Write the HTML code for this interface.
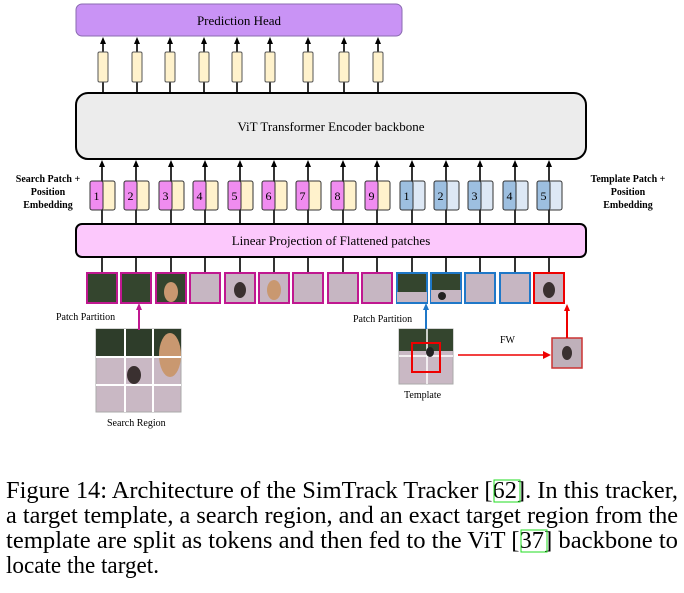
<!DOCTYPE html>
<html><head><meta charset="utf-8"><style>
body{margin:0;background:#fff}
svg{display:block}
text{font-family:"Liberation Serif",serif}
</style></head><body>
<svg width="684" height="593" viewBox="0 0 684 593" xmlns="http://www.w3.org/2000/svg">
<defs>
<g id="o">
<line x1="0" y1="92" x2="0" y2="40" stroke="#000" stroke-width="1.6"/><path d="M-3,44 L0,37 L3,44z" fill="#000"/>
<rect x="-5" y="52" width="10" height="30" rx="1.5" fill="#fff2cc" stroke="#555" stroke-width="1"/>
</g>
<g id="ar">
<line x1="0" y1="272" x2="0" y2="163" stroke="#000" stroke-width="1.6"/><path d="M-3,167 L0,160 L3,167z" fill="#000"/>
</g>
<g id="sp">
<rect x="-1" y="181" width="14" height="29" rx="2" fill="#fff2cc" stroke="#333"/>
<rect x="-12" y="181" width="13" height="29" rx="2" fill="#f08cf0" stroke="#333"/>
</g>
<g id="tp">
<rect x="-1" y="181" width="14" height="29" rx="2" fill="#dde8f5" stroke="#333"/>
<rect x="-12" y="181" width="13" height="29" rx="2" fill="#9dbfe0" stroke="#333"/>
</g>
</defs>
<rect x="76" y="4" width="326" height="32" rx="6" fill="#c993f5" stroke="#8a6bb0" stroke-width="1"/>
<text x="239" y="25" font-size="13" text-anchor="middle">Prediction Head</text>
<use href="#o" x="103"/><use href="#o" x="137"/><use href="#o" x="170"/><use href="#o" x="204"/><use href="#o" x="237"/><use href="#o" x="270"/><use href="#o" x="308"/><use href="#o" x="344"/><use href="#o" x="378"/>
<rect x="76" y="93" width="510" height="66" rx="12" fill="#ececec" stroke="#000" stroke-width="2"/>
<text x="331" y="131" font-size="13" text-anchor="middle">ViT Transformer Encoder backbone</text>

<use href="#ar" x="102"/><use href="#ar" x="136"/><use href="#ar" x="171"/><use href="#ar" x="205"/><use href="#ar" x="240"/><use href="#ar" x="274"/><use href="#ar" x="308"/><use href="#ar" x="343"/><use href="#ar" x="377"/><use href="#ar" x="412"/><use href="#ar" x="446"/><use href="#ar" x="480"/><use href="#ar" x="515"/><use href="#ar" x="549"/>

<use href="#sp" x="102"/><use href="#sp" x="136"/><use href="#sp" x="171"/><use href="#sp" x="205"/><use href="#sp" x="240"/><use href="#sp" x="274"/><use href="#sp" x="308"/><use href="#sp" x="343"/><use href="#sp" x="377"/>
<use href="#tp" x="412"/><use href="#tp" x="446"/><use href="#tp" x="480"/><use href="#tp" x="515"/><use href="#tp" x="549"/>
<g font-size="12" text-anchor="middle">
<text x="96.5" y="200">1</text><text x="130.5" y="200">2</text><text x="165.5" y="200">3</text><text x="199.5" y="200">4</text><text x="234.5" y="200">5</text><text x="268.5" y="200">6</text><text x="302.5" y="200">7</text><text x="337.5" y="200">8</text><text x="371.5" y="200">9</text>
<text x="406.5" y="200">1</text><text x="440.5" y="200">2</text><text x="474.5" y="200">3</text><text x="509.5" y="200">4</text><text x="543.5" y="200">5</text>
</g>

<rect x="76" y="224" width="510" height="33" rx="6" fill="#fcc8fc" stroke="#000" stroke-width="2"/>
<text x="331" y="245" font-size="13" text-anchor="middle">Linear Projection of Flattened patches</text>
<g font-size="10" font-weight="bold" text-anchor="middle">
<text x="48" y="182">Search Patch +</text><text x="48" y="195">Position</text><text x="48" y="208">Embedding</text>
<text x="628" y="182">Template Patch +</text><text x="628" y="195">Position</text><text x="628" y="208">Embedding</text>
</g>

<!-- patches -->
<g stroke-width="2">
<rect x="87" y="273" width="30" height="30" fill="#34452e" stroke="#c01890"/>
<rect x="121" y="273" width="30" height="30" fill="#34452e" stroke="#c01890"/>
<rect x="156" y="273" width="30" height="30" fill="#34452e" stroke="#c01890"/>
<rect x="190" y="273" width="30" height="30" fill="#c6b6c2" stroke="#c01890"/>
<rect x="225" y="273" width="30" height="30" fill="#c6b6c2" stroke="#c01890"/>
<rect x="259" y="273" width="30" height="30" fill="#c6b6c2" stroke="#c01890"/>
<rect x="293" y="273" width="30" height="30" fill="#c6b6c2" stroke="#c01890"/>
<rect x="328" y="273" width="30" height="30" fill="#c6b6c2" stroke="#c01890"/>
<rect x="362" y="273" width="30" height="30" fill="#c6b6c2" stroke="#c01890"/>
<rect x="397" y="273" width="30" height="30" fill="#34452e" stroke="#1f78c8"/>
<rect x="431" y="273" width="30" height="30" fill="#34452e" stroke="#1f78c8"/>
<rect x="465" y="273" width="30" height="30" fill="#c6b6c2" stroke="#1f78c8"/>
<rect x="500" y="273" width="30" height="30" fill="#c6b6c2" stroke="#1f78c8"/>
<rect x="534" y="273" width="30" height="30" fill="#c6b6c2" stroke="#e00"/>
</g>
<rect x="397" y="292" width="30" height="10" fill="#c6b6c2"/><rect x="431" y="290" width="30" height="12" fill="#c6b6c2"/>
<ellipse cx="171" cy="292" rx="7" ry="10" fill="#c99870"/>
<ellipse cx="274" cy="290" rx="7" ry="10" fill="#c99870"/>
<ellipse cx="240" cy="290" rx="6" ry="8" fill="#3a3030"/>
<ellipse cx="549" cy="290" rx="6" ry="8" fill="#3a3030"/>
<ellipse cx="442" cy="296" rx="4" ry="4" fill="#222"/>

<g font-size="10">
<text x="56" y="320">Patch Partition</text>
<text x="353" y="322">Patch Partition</text>
<text x="500" y="343">FW</text>
<text x="404" y="398">Template</text>
<text x="107" y="426">Search Region</text>
</g>
<rect x="96" y="329" width="85" height="83" fill="#c9b8c4" stroke="#aaa"/>
<rect x="96" y="329" width="85" height="27" fill="#2e3d2a"/>
<ellipse cx="170" cy="355" rx="11" ry="22" fill="#c99870"/>
<ellipse cx="134" cy="375" rx="7" ry="9" fill="#3a3030"/>
<g stroke="#fff" stroke-width="2"><line x1="125" y1="329" x2="125" y2="412"/><line x1="153" y1="329" x2="153" y2="412"/><line x1="96" y1="357" x2="181" y2="357"/><line x1="96" y1="385" x2="181" y2="385"/></g>
<line x1="139" y1="330" x2="139" y2="308" stroke="#c01890" stroke-width="2"/><path d="M136,310 L139,303 L142,310z" fill="#c01890"/>
<rect x="399" y="329" width="54" height="55" fill="#c9b8c4" stroke="#aaa"/>
<rect x="399" y="329" width="54" height="22" fill="#34452e"/>
<g stroke="#fff" stroke-width="1.5"><line x1="427" y1="329" x2="427" y2="384"/><line x1="399" y1="356" x2="453" y2="356"/></g>
<ellipse cx="430" cy="352" rx="4" ry="5" fill="#222"/>
<rect x="412" y="343" width="28" height="29" fill="none" stroke="#e00" stroke-width="2"/>
<line x1="426" y1="329" x2="426" y2="308" stroke="#1f78c8" stroke-width="2"/><path d="M423,310 L426,303 L429,310z" fill="#1f78c8"/>
<line x1="458" y1="355" x2="545" y2="355" stroke="#e00" stroke-width="1.5"/><path d="M543,351 L551,355 L543,359z" fill="#e00"/>
<rect x="552" y="338" width="30" height="30" fill="#bfb0ba" stroke="#c33" stroke-width="1.5"/>
<ellipse cx="567" cy="353" rx="5" ry="7" fill="#3a3030"/>
<line x1="567" y1="338" x2="567" y2="310" stroke="#e00" stroke-width="2"/><path d="M564,311 L567,304 L570,311z" fill="#e00"/>

<g font-size="24">
<text x="6" y="498" textLength="672" lengthAdjust="spacingAndGlyphs">Figure 14: Architecture of the SimTrack Tracker [62]. In this tracker,</text>
<text x="6" y="523" textLength="672" lengthAdjust="spacingAndGlyphs">a target template, a search region, and an exact target region from the</text>
<text x="6" y="548" textLength="672" lengthAdjust="spacingAndGlyphs">template are split as tokens and then fed to the ViT [37] backbone to</text>
<text x="6" y="573" textLength="153" lengthAdjust="spacingAndGlyphs">locate the target.</text>
</g>
<rect x="494" y="480" width="26" height="22" fill="none" stroke="#2d2" stroke-width="1"/>
<rect x="521" y="530" width="26" height="22" fill="none" stroke="#2d2" stroke-width="1"/>
</svg>
</body></html>
